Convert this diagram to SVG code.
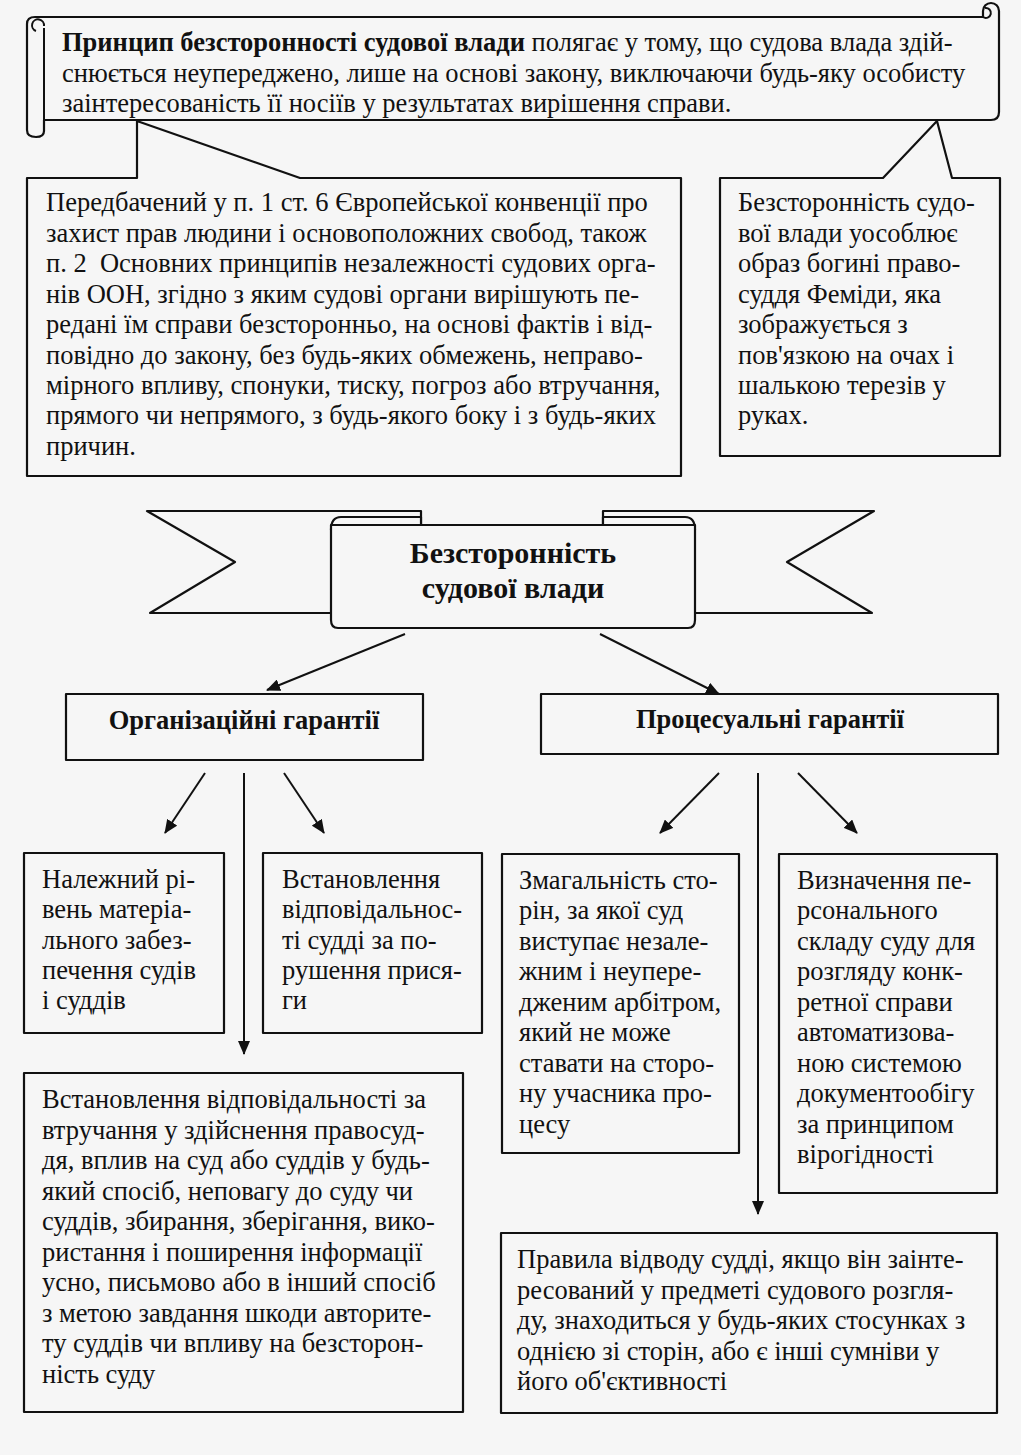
<svg xmlns="http://www.w3.org/2000/svg" width="1021" height="1455" viewBox="0 0 1021 1455">
<defs>
<style>
.bg{fill:#f6f6f6}
.sh{fill:#f6f6f6;stroke:#111;stroke-width:2.2;stroke-linejoin:round}
.ln{fill:none;stroke:#111;stroke-width:2}
.t{font-family:"Liberation Serif","Times New Roman",serif;font-size:26.5px;fill:#111}
.tt{font-family:"Liberation Serif","Times New Roman",serif;font-size:26.5px;fill:#111}
.hb{font-family:"Liberation Serif","Times New Roman",serif;font-size:26.5px;font-weight:bold;fill:#111}
.bb{font-family:"Liberation Serif","Times New Roman",serif;font-size:30px;font-weight:bold;fill:#111}
.con{fill:none;stroke:#111;stroke-width:2}
</style>
<marker id="ah" markerUnits="userSpaceOnUse" markerWidth="14" markerHeight="12" refX="13" refY="6" orient="auto">
<path d="M0,0 L14,6 L0,12 Z" fill="#111"/>
</marker>
</defs>
<rect class="bg" x="0" y="0" width="1021" height="1455"/>

<g id="scroll">
<path class="sh" d="M45,17 H983 V11 A8,8 0 0 1 999,11 V112 Q999,120 991,120 H44 V131 Q44,137 36,137 Q27,137 27,130 V24 Q27,17 35,17 Z"/>
<path class="ln" d="M983,17 A5,5 0 1 0 985,8"/>
<path class="ln" d="M44,120 V28"/>
<path class="ln" d="M44,26 A6,6 0 1 0 36,31"/>
<text class="tt" x="62" y="51"><tspan font-weight="bold">Принцип безсторонності судової влади</tspan> полягає у тому, що судова влада здій-</text>
<text class="tt" x="62" y="82">снюється неупереджено, лише на основі закону, виключаючи будь-яку особисту</text>
<text class="tt" x="62" y="112">заінтересованість її носіїв у результатах вирішення справи.</text>
</g>

<g id="callout-left">
<path class="sh" d="M27,178 H137 V121 L300,178 H681 V476 H27 Z"/>
<text class="t" x="46" y="211">Передбачений у п. 1 ст. 6 Європейської конвенції про</text>
<text class="t" x="46" y="242">захист прав людини і основоположних свобод, також</text>
<text class="t" x="46" y="272">п. 2&#160; Основних принципів незалежності судових орга-</text>
<text class="t" x="46" y="303">нів ООН, згідно з яким судові органи вирішують пе-</text>
<text class="t" x="46" y="333">редані їм справи безсторонньо, на основі фактів і від-</text>
<text class="t" x="46" y="364">повідно до закону, без будь-яких обмежень, неправо-</text>
<text class="t" x="46" y="394">мірного впливу, спонуки, тиску, погроз або втручання,</text>
<text class="t" x="46" y="424">прямого чи непрямого, з будь-якого боку і з будь-яких</text>
<text class="t" x="46" y="455">причин.</text>
</g>

<g id="callout-right">
<path class="sh" d="M720,178 H883 L937,121 L952,178 H1000 V456 H720 Z"/>
<text class="t" x="738" y="211">Безсторонність судо-</text>
<text class="t" x="738" y="242">вої влади уособлює</text>
<text class="t" x="738" y="272">образ богині право-</text>
<text class="t" x="738" y="303">суддя Феміди, яка</text>
<text class="t" x="738" y="333">зображується з</text>
<text class="t" x="738" y="364">пов'язкою на очах і</text>
<text class="t" x="738" y="394">шалькою терезів у</text>
<text class="t" x="738" y="424">руках.</text>
</g>

<g id="banner">
<path class="sh" d="M147,511 H421 V613 H150 L235,562 Z"/>
<path class="sh" d="M874,511 H603 V613 H872 L787,562 Z"/>
<path class="sh" d="M331,530 Q331,517 341,517 H421 V530 Z"/>
<path class="sh" d="M695,530 Q695,517 685,517 H603 V530 Z"/>
<path class="sh" d="M331,525 H695 V620 Q695,628 688,628 H338 Q331,628 331,620 Z"/>
<text class="bb" x="513" y="563" text-anchor="middle">Безсторонність</text>
<text class="bb" x="513" y="598" text-anchor="middle">судової влади</text>
</g>

<g id="org">
<rect class="sh" x="66" y="694" width="357" height="66"/>
<text class="hb" x="244" y="729" text-anchor="middle">Організаційні гарантії</text>
</g>
<g id="proc">
<rect class="sh" x="541" y="694" width="457" height="60"/>
<text class="hb" x="770" y="728" text-anchor="middle">Процесуальні гарантії</text>
</g>

<g id="org-1">
<rect class="sh" x="24" y="853" width="200" height="180"/>
<text class="t" x="42" y="888">Належний рі-</text>
<text class="t" x="42" y="918">вень матеріа-</text>
<text class="t" x="42" y="949">льного забез-</text>
<text class="t" x="42" y="979">печення судів</text>
<text class="t" x="42" y="1009">і суддів</text>
</g>
<g id="org-2">
<rect class="sh" x="263" y="853" width="219" height="180"/>
<text class="t" x="282" y="888">Встановлення</text>
<text class="t" x="282" y="918">відповідальнос-</text>
<text class="t" x="282" y="949">ті судді за по-</text>
<text class="t" x="282" y="979">рушення прися-</text>
<text class="t" x="282" y="1009">ги</text>
</g>
<g id="org-3">
<rect class="sh" x="24" y="1073" width="439" height="339"/>
<text class="t" x="42" y="1108">Встановлення відповідальності за</text>
<text class="t" x="42" y="1139">втручання у здійснення правосуд-</text>
<text class="t" x="42" y="1169">дя, вплив на суд або суддів у будь-</text>
<text class="t" x="42" y="1200">який спосіб, неповагу до суду чи</text>
<text class="t" x="42" y="1230">суддів, збирання, зберігання, вико-</text>
<text class="t" x="42" y="1261">ристання і поширення інформації</text>
<text class="t" x="42" y="1291">усно, письмово або в інший спосіб</text>
<text class="t" x="42" y="1322">з метою завдання шкоди авторите-</text>
<text class="t" x="42" y="1352">ту суддів чи впливу на безсторон-</text>
<text class="t" x="42" y="1383">ність суду</text>
</g>

<g id="proc-1">
<rect class="sh" x="502" y="854" width="237" height="299"/>
<text class="t" x="519" y="889">Змагальність сто-</text>
<text class="t" x="519" y="919">рін, за якої суд</text>
<text class="t" x="519" y="950">виступає незале-</text>
<text class="t" x="519" y="980">жним і неупере-</text>
<text class="t" x="519" y="1011">дженим арбітром,</text>
<text class="t" x="519" y="1041">який не може</text>
<text class="t" x="519" y="1072">ставати на сторо-</text>
<text class="t" x="519" y="1102">ну учасника про-</text>
<text class="t" x="519" y="1133">цесу</text>
</g>
<g id="proc-2">
<rect class="sh" x="779" y="854" width="218" height="339"/>
<text class="t" x="797" y="889">Визначення пе-</text>
<text class="t" x="797" y="919">рсонального</text>
<text class="t" x="797" y="950">складу суду для</text>
<text class="t" x="797" y="980">розгляду конк-</text>
<text class="t" x="797" y="1011">ретної справи</text>
<text class="t" x="797" y="1041">автоматизова-</text>
<text class="t" x="797" y="1072">ною системою</text>
<text class="t" x="797" y="1102">документообігу</text>
<text class="t" x="797" y="1133">за принципом</text>
<text class="t" x="797" y="1163">вірогідності</text>
</g>
<g id="proc-3">
<rect class="sh" x="501" y="1233" width="496" height="180"/>
<text class="t" x="517" y="1268">Правила відводу судді, якщо він заінте-</text>
<text class="t" x="517" y="1299">ресований у предметі судового розгля-</text>
<text class="t" x="517" y="1329">ду, знаходиться у будь-яких стосунках з</text>
<text class="t" x="517" y="1360">однією зі сторін, або є інші сумніви у</text>
<text class="t" x="517" y="1390">його об'єктивності</text>
</g>

<g id="connectors">
<line class="con" x1="405" y1="634" x2="267" y2="690" marker-end="url(#ah)"/>
<line class="con" x1="600" y1="634" x2="719" y2="694" marker-end="url(#ah)"/>
<line class="con" x1="205" y1="773" x2="165" y2="833" marker-end="url(#ah)"/>
<line class="con" x1="244" y1="773" x2="244" y2="1054" marker-end="url(#ah)"/>
<line class="con" x1="284" y1="773" x2="324" y2="833" marker-end="url(#ah)"/>
<line class="con" x1="719" y1="773" x2="660" y2="833" marker-end="url(#ah)"/>
<line class="con" x1="758" y1="773" x2="758" y2="1214" marker-end="url(#ah)"/>
<line class="con" x1="798" y1="773" x2="857" y2="833" marker-end="url(#ah)"/>
</g>
</svg>
